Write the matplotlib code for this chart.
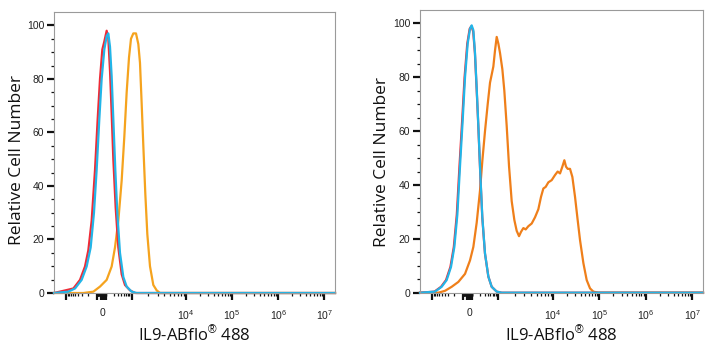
import numpy as np
import matplotlib
matplotlib.use("Agg")
import matplotlib.pyplot as plt

# ---------------- data (x in display channels 0-1000 of the biexponential axis) --------------
# Left panel
L_red_x = [0, 45, 69, 92.5, 110.3, 122.2, 134, 145.9, 155.4, 163.7, 172, 179.1, 187.4, 193.3,
           199.3, 205.2, 211.1, 219.4, 228.9, 240.8, 252.6, 270.4, 288.2, 1000]
L_red_y = [0, 1.1, 1.7, 4.9, 9.9, 16, 27, 46, 65, 80, 91, 94, 98, 95,
           83, 67, 50, 32, 17, 7, 3, 1, 0, 0]

L_blue_x = [0, 51, 75, 98.4, 116.2, 130.5, 142.3, 151.8, 161.3, 169.6, 179.1, 187.4, 193.3,
            199.3, 205.2, 211.1, 218.2, 225.3, 234.8, 246.7, 258.6, 276.3, 294.1, 1000]
L_blue_y = [0, 0.5, 1.7, 4.9, 9.9, 17, 30, 46, 65, 80, 91, 96, 97,
            92, 81, 65, 46, 30, 15, 6, 2.4, 0.5, 0, 0]

L_orange_x = [0, 104.4, 140, 163.7, 187.4, 205.2, 217, 228.9, 240.8, 250.3, 258.6, 266.9, 274,
              282.3, 291.8, 300.1, 306, 311.9, 317.9, 325, 332.1, 341.6, 353.4, 365.3, 377.2, 1000]
L_orange_y = [0, 0, 0.5, 2.4, 4.9, 9.9, 17, 27, 42, 58.5, 75, 88, 95,
              97, 97, 93, 86, 71, 55, 37, 22, 10, 3, 1, 0, 0]

# Right panel
R_blue_x = [0, 53, 76.6, 94.3, 109.6, 121.4, 132, 141.4, 150.8, 159.1, 168.5, 176.7, 182.6,
            188.5, 194.4, 200.3, 206.2, 213.2, 220.3, 229.7, 241.5, 253.3, 271, 288.6, 1000]
R_blue_y = [0, 0.4, 2.2, 4.7, 9.6, 17, 29, 47, 64, 80, 92.5, 98, 99.3,
            97.5, 89, 76, 62, 44, 28, 14.6, 6, 2.2, 0.4, 0, 0]

R_red_x = [0, 51, 74.5, 92, 107.5, 119.5, 130, 139.5, 149, 157.5, 167, 175.5, 181.5,
           188, 194, 200, 206, 213, 220, 229.5, 241.5, 253.3, 271, 288.6, 1000]
R_red_y = [0, 0.4, 2.2, 4.7, 9.6, 17, 29, 47, 64, 80, 92.5, 98, 99,
           97, 89, 76, 62, 44, 28, 14.6, 6, 2.2, 0.4, 0, 0]

R_orange_x = [0, 64.8, 88.4, 112, 135.5, 159.1, 176.7, 188.5, 200.3, 212.1, 220.3, 229.7, 239.2,
              247.4, 253.3, 259.2, 265.1, 271, 276.9, 282.8, 291, 298, 306.3, 314.6, 324, 333.4,
              341.6, 349.9, 357, 365.2, 373.5, 382.9, 394.7, 406.4, 418.2, 427.6, 435.9, 444.1,
              453.6, 465.3, 477.1, 486.5, 494.8, 503, 510.1, 516, 521.9, 530.1, 538.4, 547.8,
              556, 565.5, 577.3, 589, 600.8, 612.6, 630.3, 1000]
R_orange_y = [0, 0, 0.7, 2.2, 4, 7, 12, 17, 26, 38, 49, 60, 70,
              78, 81, 84, 90, 95, 92.5, 89, 83, 75, 62, 47, 34, 27,
              23, 21, 22.6, 24, 23.5, 24.7, 25.7, 28, 31, 35.6, 38.7, 39.3,
              41, 41.8, 43.7, 45, 44.3, 46.8, 49.2, 46.8, 46, 46, 43, 35.6,
              28, 19.5, 11, 4.7, 1.6, 0.4, 0, 0]

# axis tick anchors: fluorescence value -> display channel
tick_values = [-1e3, -1e2, -1e1, 0, 1e1, 1e2, 1e3, 1e4, 1e5, 1e6, 1e7]
tick_channels = [44, 152, 166, 174, 178, 184, 277, 470, 634, 798, 962]
labelled = {0: "0", 1e4: r"$10^{4}$", 1e5: r"$10^{5}$", 1e6: r"$10^{6}$", 1e7: r"$10^{7}$"}

y_major = [0, 20, 40, 60, 80, 100]

RED = "#EE2B36"
BLUE = "#22B5E8"
ORANGE_L = "#F5A31E"
ORANGE_R = "#EF7F1A"

plt.rcParams["mathtext.fontset"] = "custom"
plt.rcParams["mathtext.rm"] = "Liberation Sans"
plt.rcParams["mathtext.it"] = "Liberation Sans"

fig = plt.figure(figsize=(7.15, 3.5), dpi=100)
ax1 = fig.add_axes([54/715, 1-293/350, 281/715, 281/350])
ax2 = fig.add_axes([420/715, 1-292.7/350, 283/715, 282.7/350])

pos = dict(zip(tick_values, tick_channels))
minor = []
pairs = [(-1e2, -1e3), (-1e1, -1e2), (1e1, 1e2), (1e2, 1e3), (1e3, 1e4), (1e4, 1e5), (1e5, 1e6), (1e6, 1e7)]
for lo, hi in pairs:
    for m in range(2, 10):
        minor.append(pos[lo] + (pos[hi] - pos[lo]) * np.log10(m))
major_pos = [pos[v] for v in tick_values]
major_lab = [labelled.get(v, "") for v in tick_values]


def style(ax, curves, ylab_x, ylab_y):
    for xs, ys, c in curves:
        ax.plot(xs, ys, color=c, lw=1.6, clip_on=False, solid_joinstyle="round")
    ax.set_xlim(0, 1000)
    ax.set_ylim(0, 105)
    for s in ax.spines.values():
        s.set_color("#9a9a9a")
        s.set_linewidth(0.8)
    ax.set_xticks(major_pos)
    ax.set_xticklabels(major_lab)
    ax.set_xticks(minor, minor=True)
    ax.set_yticks(y_major)
    ax.set_yticks(np.arange(0, 105, 5), minor=True)
    ax.tick_params(axis="both", which="major", direction="out", length=5, width=1.6,
                   color="#111111", labelsize=7.5, labelcolor="#222222")
    ax.tick_params(axis="both", which="minor", direction="out", length=2.5, width=0.9, color="#111111")
    ax.tick_params(axis="x", which="major", pad=6)
    ax.tick_params(axis="y", which="major", pad=2)
    for t in ax.get_xticklabels() + ax.get_yticklabels():
        t.set_fontfamily("Liberation Sans")
    ax.set_ylabel("Relative Cell Number", fontsize=12.5, fontfamily="Open Sans", color="#111111")
    ax.set_xlabel("IL9-ABflo$^{\u00ae}$ 488", fontsize=12, fontfamily="Open Sans", color="#111111")
    ax.yaxis.set_label_coords(ylab_x, ylab_y)
    ax.xaxis.set_label_coords(0.5, -0.112)


style(ax1, [(L_orange_x, L_orange_y, ORANGE_L), (L_red_x, L_red_y, RED), (L_blue_x, L_blue_y, BLUE)],
      -0.103, 0.473)
style(ax2, [(R_orange_x, R_orange_y, ORANGE_R), (R_red_x, R_red_y, RED), (R_blue_x, R_blue_y, BLUE)],
      -0.106, 0.462)

fig.savefig("out.png", dpi=100, facecolor="white")
